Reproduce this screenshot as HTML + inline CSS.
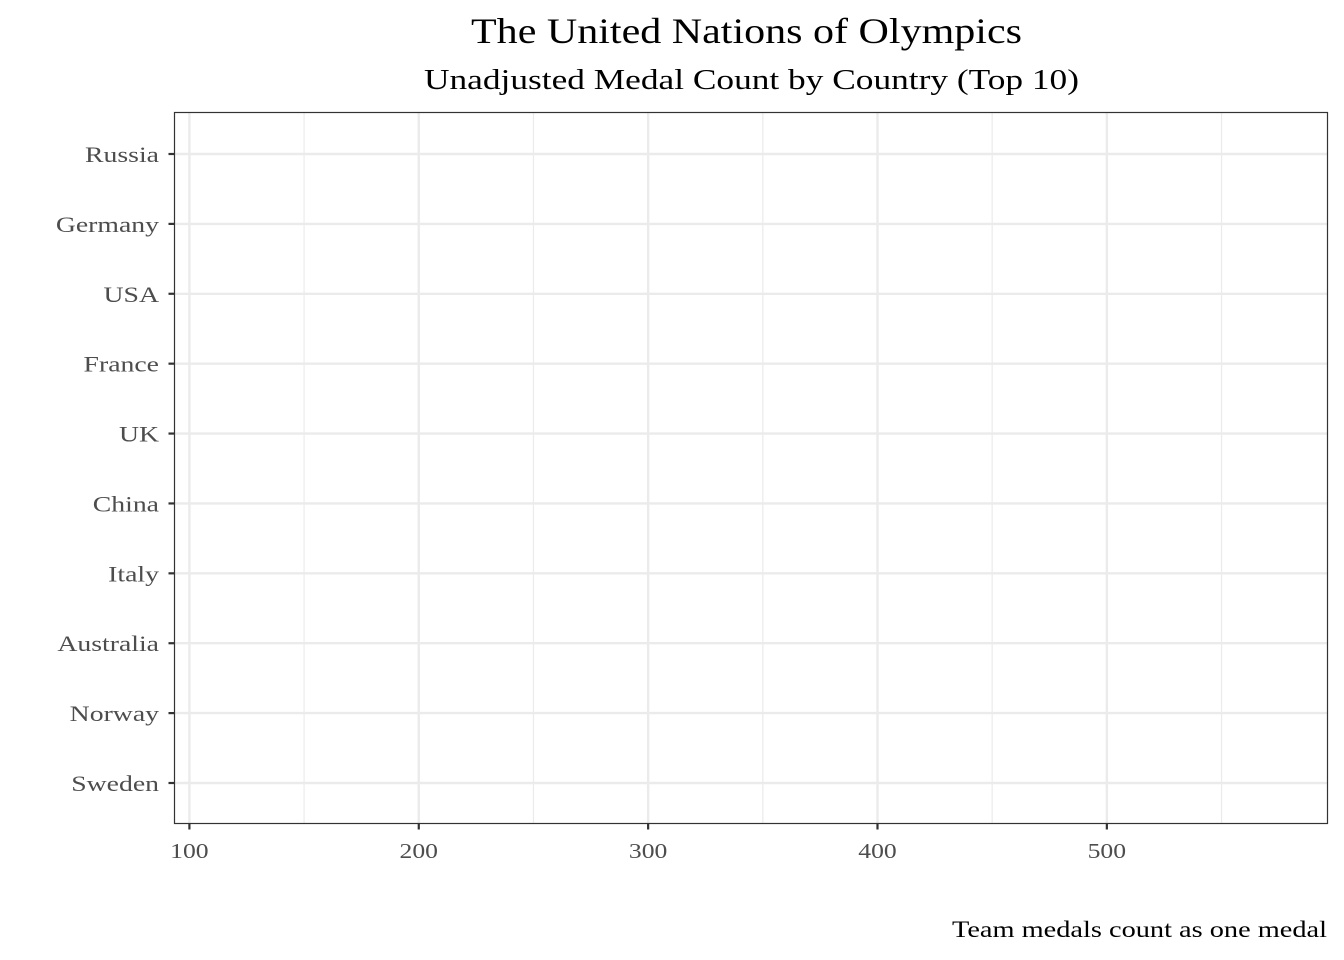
<!DOCTYPE html>
<html><head><meta charset="utf-8"><style>
body{margin:0;background:#fff;}
svg{display:block;font-family:"Liberation Serif",serif;}
</style></head><body>
<svg id="chart" width="1344" height="960">
<text x="471" y="43" text-anchor="start" font-size="36" fill="#000" textLength="551" lengthAdjust="spacingAndGlyphs">The United Nations of Olympics</text>
<text x="424" y="89" text-anchor="start" font-size="29" fill="#000" textLength="655" lengthAdjust="spacingAndGlyphs">Unadjusted Medal Count by Country (Top 10)</text>
<text x="952" y="937" text-anchor="start" font-size="23" fill="#000" textLength="375" lengthAdjust="spacingAndGlyphs">Team medals count as one medal</text>
<g id="grid"></g>
<rect x="174.5" y="112.5" width="1153" height="711" fill="none" stroke="#333" stroke-width="1.2"/>
<g id="axes"></g>
</svg>
<script>
const categories = ["Russia","Germany","USA","France","UK","China","Italy","Australia","Norway","Sweden"];
const majorTicks = [100,200,300,400,500];
const minorTicks = [150,250,350,450,550];
const xDomain = [93.5, 596.2];
const ns = "http://www.w3.org/2000/svg";
const L = 174.5, R = 1327.5, T = 112.5, B = 823.5;
function xs(v){ return L + (v - xDomain[0]) / (xDomain[1] - xDomain[0]) * (R - L); }
function ys(i){ return 154 + i * (783 - 154) / (categories.length - 1); }
const grid = document.getElementById('grid');
const axes = document.getElementById('axes');
function mk(tag, attrs, parent){ const e = document.createElementNS(ns, tag); for (const k in attrs) e.setAttribute(k, attrs[k]); parent.appendChild(e); return e; }
function stretch(el, f){ const w = el.getComputedTextLength(); el.setAttribute('textLength', w * f); el.setAttribute('lengthAdjust', 'spacingAndGlyphs'); }
minorTicks.forEach(v => {
  const l = mk('line', {x1:xs(v), x2:xs(v), y1:T, y2:B, stroke:'#ebebeb', 'stroke-width':1.2}, grid);
  
  
});
majorTicks.forEach(v => {
  const l = mk('line', {x1:xs(v), x2:xs(v), y1:T, y2:B, stroke:'#ebebeb', 'stroke-width':2.4}, grid);
  
  
  const t = mk('line', {x1:xs(v), x2:xs(v), y1:B, y2:B+6, stroke:'#333', 'stroke-width':2.2}, axes);
  
  
  const tx = mk('text', {x:xs(v), y:858, 'text-anchor':'middle', 'font-size':21, fill:'#4d4d4d'}, axes);
  tx.textContent = v;
  
  
  stretch(tx, 1.22);
});
categories.forEach((c, i) => {
  const y = ys(i);
  const l = mk('line', {x1:L, x2:R, y1:y, y2:y, stroke:'#ebebeb', 'stroke-width':2.4}, grid);
  
  
  const t = mk('line', {x1:L-6, x2:L, y1:y, y2:y, stroke:'#333', 'stroke-width':2.2}, axes);
  
  
  const tx = mk('text', {x:159, y:y+8, 'text-anchor':'end', 'font-size':22, fill:'#4d4d4d'}, axes);
  tx.textContent = c;
  
  
  stretch(tx, 1.26);
});
</script>
</body></html>
